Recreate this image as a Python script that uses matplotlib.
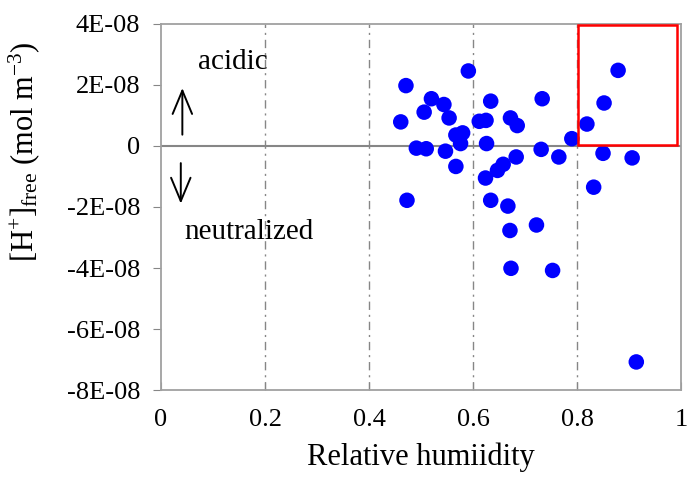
import matplotlib
matplotlib.use("Agg")
import matplotlib.pyplot as plt
from matplotlib.patches import Rectangle

plt.rcParams["font.family"] = ["Liberation Serif", "DejaVu Serif"]
plt.rcParams["mathtext.fontset"] = "custom"
plt.rcParams["mathtext.rm"] = "Liberation Serif"
plt.rcParams["mathtext.it"] = "Liberation Serif:italic"

# relative humidity vs free H+ (mol m-3)
rh = [0.591, 0.471, 0.520, 0.544, 0.634, 0.733, 0.506, 0.554, 0.461, 0.612,
      0.625, 0.672, 0.685, 0.580, 0.567, 0.576, 0.626, 0.790, 0.819, 0.852,
      0.879, 0.491, 0.510, 0.547, 0.731, 0.765, 0.683, 0.850, 0.906, 0.567,
      0.658, 0.647, 0.624, 0.832, 0.473, 0.634, 0.667, 0.722, 0.671, 0.673,
      0.753, 0.914]
h_free = [2.46, 1.98, 1.55, 1.36, 1.47, 1.55, 1.11, 0.92, 0.79, 0.81,
          0.84, 0.92, 0.67, 0.43, 0.36, 0.08, 0.08, 0.24, 0.72, 1.41,
          2.48, -0.07, -0.09, -0.17, -0.11, -0.36, -0.36, -0.24, -0.39, -0.67,
          -0.60, -0.80, -1.05, -1.35, -1.78, -1.78, -1.97, -2.59, -2.77, -4.01,
          -4.08, -7.08]
h_free = [v * 1e-8 for v in h_free]

y_ticks = [4e-8, 2e-8, 0, -2e-8, -4e-8, -6e-8, -8e-8]
y_labels = ["4E-08", "2E-08", "0", "-2E-08", "-4E-08", "-6E-08", "-8E-08"]
x_ticks = [0, 0.2, 0.4, 0.6, 0.8, 1.0]
x_labels = ["0", "0.2", "0.4", "0.6", "0.8", "1"]

fig = plt.figure(figsize=(6.87, 4.79), dpi=100)
ax = fig.add_axes([0.2344, 0.1858, 0.7569, 0.7641])

grid_col = "#868686"
for xv in x_ticks[1:-1]:
    ax.axvline(xv, color=grid_col, lw=1.0, ls=(0, (6, 3.5, 1.5, 3.5)), zorder=1)
ax.axhline(0, color=grid_col, lw=1.5, zorder=1)

ax.scatter(rh, h_free, s=125, color="#0000ff", edgecolors="none", zorder=3)

ax.add_patch(Rectangle((0.802, 0.02e-8), 0.19, 3.96e-8, fill=False,
                       edgecolor="#ff0000", lw=1.8, zorder=4))

ax.set_xlim(0, 1)
ax.set_ylim(-8e-8, 4e-8)
ax.set_xticks(x_ticks)
ax.set_xticklabels(x_labels, fontsize=19)
ax.set_yticks(y_ticks)
ax.set_yticklabels(y_labels, fontsize=19)
ax.tick_params(axis="x", direction="in", length=6, color=grid_col, pad=14)
ax.tick_params(axis="y", direction="out", length=6, color=grid_col, pad=9)
for sp in ax.spines.values():
    sp.set_color("#a0a0a0")
    sp.set_linewidth(1.3)

ax.set_xlabel("Relative humiidity", fontsize=22, labelpad=8)
ax.set_ylabel(r"[H$^{+}$]$_{\mathrm{free}}$ (mol m$^{\mathrm{-3}}$)", fontsize=22)
ax.yaxis.set_label_coords(-0.228, 0.65)

ax.text(0.139, 2.74e-8, "acidic", fontsize=21, ha="center", va="center")
ax.text(0.170, -2.82e-8, "neutralized", fontsize=21, ha="center", va="center")
ax.annotate("", xy=(0.041, 1.99e-8), xytext=(0.041, 0.28e-8),
            arrowprops=dict(arrowstyle="->,head_length=0.6,head_width=0.25",
                            color="black", lw=1.4, mutation_scale=28))
ax.annotate("", xy=(0.038, -1.98e-8), xytext=(0.038, -0.47e-8),
            arrowprops=dict(arrowstyle="->,head_length=0.6,head_width=0.25",
                            color="black", lw=1.4, mutation_scale=28))

plt.savefig("out.png", dpi=100)
